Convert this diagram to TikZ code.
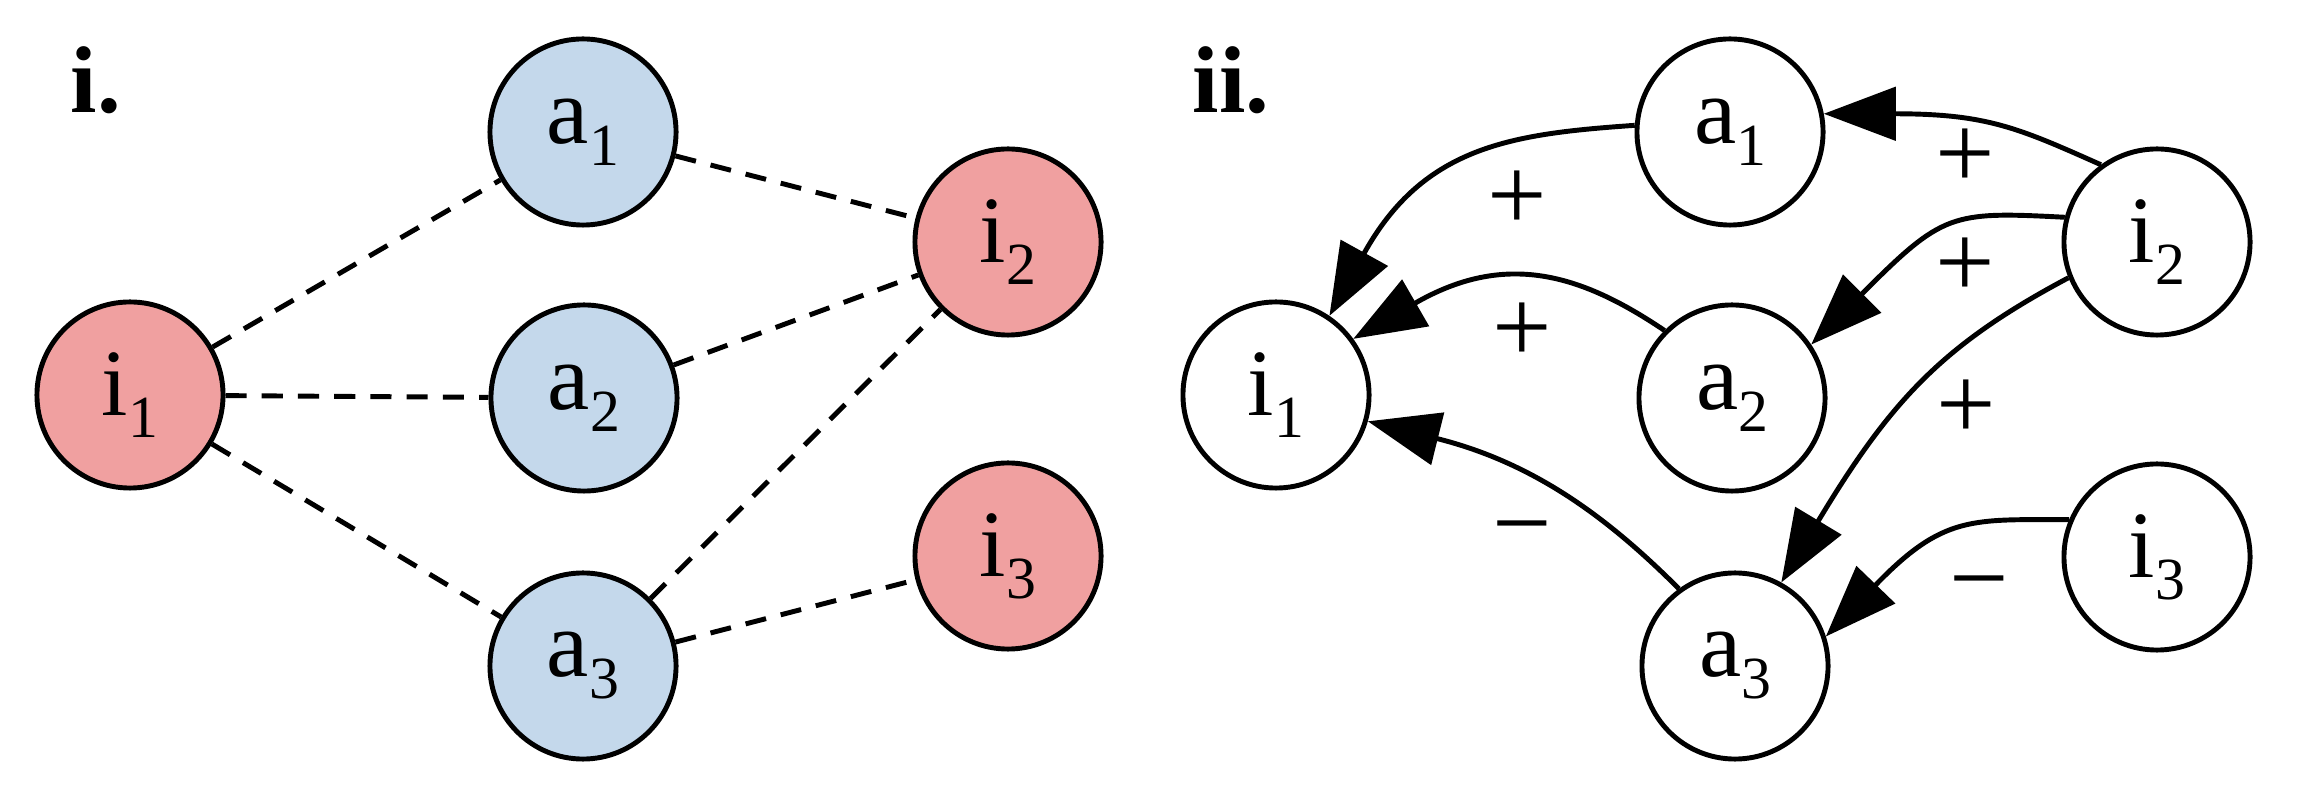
\documentclass[tikz,border=0pt]{standalone}
\usepackage{fontspec}
\setmainfont{Liberation Serif}
\usetikzlibrary{arrows.meta,calc}
\definecolor{inputred}{HTML}{F0A0A0}
\definecolor{actionblue}{HTML}{C4D8EB}
\newcommand{\vsub}[2]{#1\raisebox{-0.22cm}{\fontsize{17}{17}\selectfont #2}}

\begin{document}
\begin{tikzpicture}[
    x=0.01cm, y=0.01cm,
    var/.style ={
        circle,
        draw,
        line width=1.4pt,
        minimum size=1.86cm,
        inner sep=0pt,
        font=\fontsize{27}{27}\selectfont,
    },
    inp/.style={var, fill=inputred},
    act/.style={var, fill=actionblue},
    link/.style={line width=1.4pt, dash pattern=on 6pt off 4.3pt},
    infl/.style={line width=1.4pt, -{Triangle[length=0.72cm, width=0.53cm]},
        shorten >=-0.72cm},
    sign/.style={font=\fontsize{30}{30}\selectfont, inner sep=0pt,
        text height=18.6pt, text depth=0pt},
    panel/.style={font=\bfseries\fontsize{27}{27}\selectfont,
        anchor=base west, inner sep=0pt},
    ]
    \useasboundingbox (0,0) rectangle (2300,800);

    % i. undirected
    \node[panel] (lab-u) at (70,687) {i.};
    \node[inp] (u-i1) at (130,405) {\vsub{i}{1}};
    \node[act] (u-a1) at (583,668) {\vsub{a}{1}};
    \node[act] (u-a2) at (584,402) {\vsub{a}{2}};
    \node[act] (u-a3) at (583,134) {\vsub{a}{3}};
    \node[inp] (u-i2) at (1008,558) {\vsub{i}{2}};
    \node[inp] (u-i3) at (1008,244) {\vsub{i}{3}};
    \draw[link] (u-i1) -- (u-a1);
    \draw[link] (u-i1) -- (u-a2);
    \draw[link] (u-i1) -- (u-a3);
    \draw[link] (u-a1) -- (u-i2);
    \draw[link] (u-a2) -- (u-i2);
    \draw[link] (u-a3) -- (u-i2);
    \draw[link] (u-a3) -- (u-i3);

    % ii. directed, curves end at the arrow base
    \node[panel] (lab-d) at (1192,687) {ii.};
    \node[var] (d-i1) at (1276,405) {\vsub{i}{1}};
    \node[var] (d-a1) at (1730,668) {\vsub{a}{1}};
    \node[var] (d-a2) at (1732,402) {\vsub{a}{2}};
    \node[var] (d-a3) at (1735,134) {\vsub{a}{3}};
    \node[var] (d-i2) at (2157,558) {\vsub{i}{2}};
    \node[var] (d-i3) at (2157,243) {\vsub{i}{3}};
    \draw[infl] (d-a1.176) to[out=184, in=61, looseness=1.05] ($(d-i1.56)+(61:0.72cm)$);
    \draw[infl] (d-a2.135) to[out=146, in=30, looseness=1.05] ($(d-i1.36)+(30:0.72cm)$);
    \draw[infl] (d-a3.126) to[out=135, in=-14, looseness=0.9] ($(d-i1.344)+(-14:0.72cm)$);
    \draw[infl] (d-i2.126) to[out=156, in=0, looseness=1.1] ($(d-a1.11)+(0:0.72cm)$);
    \draw[infl] (d-i2.165) to[out=177, in=45, looseness=1.35] ($(d-a2.34)+(45:0.72cm)$);
    \draw[infl] (d-i2.202) to[out=208, in=59, looseness=1.04] ($(d-a3.61)+(59:0.72cm)$);
    \draw[infl] (d-i3.157) to[out=180, in=46, looseness=1.22] ($(d-a3.18)+(46:0.72cm)$);
    \node[sign] (s-a1i1) at (1517,602) {+};
    \node[sign] (s-a2i1) at (1522,470) {+};
    \node[sign] (s-a3i1) at (1522,274) {−};
    \node[sign] (s-i2a1) at (1965,644) {+};
    \node[sign] (s-i2a2) at (1965,535) {+};
    \node[sign] (s-i2a3) at (1966,393) {+};
    \node[sign] (s-i3a3) at (1979,219) {−};
\end{tikzpicture}
\end{document}
